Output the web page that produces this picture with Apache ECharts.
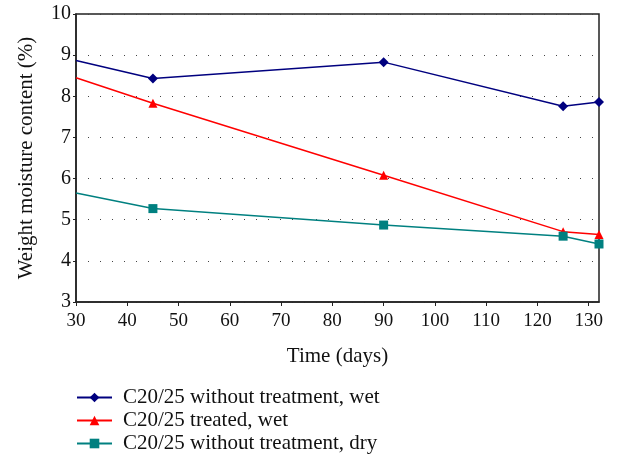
<!DOCTYPE html>
<html>
<head>
<meta charset="utf-8">
<style>
  html, body { margin: 0; padding: 0; background: #fff; }
  #chart { width: 618px; height: 463px; }
</style>
<script src="https://cdn.jsdelivr.net/npm/echarts@6/dist/echarts.min.js"></script>
</head>
<body>
<div id="chart"></div>
<script>
// Sampling days
const days = [30, 45, 90, 125, 132];

// Weight moisture content (%) per mix
const untreatedWet = [8.87, 8.43, 8.83, 7.76, 7.86];
const treatedWet = [8.45, 7.83, 6.08, 4.71, 4.64];
const untreatedDry = [5.65, 5.27, 4.87, 4.60, 4.41];

const seriesNames = [
  'C20/25 without treatment, wet',
  'C20/25 treated, wet',
  'C20/25 without treatment, dry'
];

const FONT = 'Liberation Serif';

// pair days with values; the day-30 reading has no marker
function pairs(values) {
  return days.map((d, i) => i === 0
    ? { value: [d, values[i]], symbol: 'none' }
    : [d, values[i]]);
}

function lineSeries(name, values, color, symbol, size) {
  return {
    name: name,
    type: 'line',
    data: pairs(values),
    symbol: symbol,
    symbolSize: size,
    showAllSymbol: true,
    clip: false,
    lineStyle: { color: color, width: 1.5 },
    itemStyle: { color: color },
    emphasis: { disabled: true }
  };
}

const chart = echarts.init(document.getElementById('chart'), null, { renderer: 'canvas' });

chart.setOption({
  animation: false,
  backgroundColor: '#fff',
  textStyle: { fontFamily: FONT },
  grid: {
    left: 76, right: 19, top: 14, bottom: 161,
    show: true, borderColor: '#222', borderWidth: 1.5
  },
  legend: {
    orient: 'vertical',
    left: 76, top: 387,
    width: 500, height: 76,
    padding: 0,
    itemWidth: 35, itemHeight: 12, itemGap: 2,
    textStyle: { fontFamily: FONT, fontSize: 21, color: '#111', lineHeight: 20, padding: [0, 0, 0, 6] },
    data: seriesNames
  },
  xAxis: {
    type: 'value',
    min: 30, max: 132, interval: 10,
    name: 'Time (days)',
    nameLocation: 'middle',
    nameGap: 44,
    nameTextStyle: { fontFamily: FONT, fontSize: 21, color: '#111' },
    axisLine: { show: true, lineStyle: { color: '#222', width: 1.5 } },
    axisTick: { show: true, length: 4, lineStyle: { color: '#222' } },
    axisLabel: { fontFamily: FONT, fontSize: 19, color: '#111', margin: 10, showMaxLabel: false },
    splitLine: { show: false }
  },
  yAxis: {
    type: 'value',
    min: 3, max: 10, interval: 1,
    name: 'Weight moisture content (%)',
    nameLocation: 'middle',
    nameGap: 39,
    nameTextStyle: { fontFamily: FONT, fontSize: 21, color: '#111' },
    axisLine: { show: true, lineStyle: { color: '#222', width: 1.5 } },
    axisTick: { show: true, length: 3, lineStyle: { color: '#222' } },
    axisLabel: { fontFamily: FONT, fontSize: 20, color: '#111', margin: 5 },
    splitLine: { show: true, lineStyle: { color: '#444', width: 1, type: [1, 11] } }
  },
  series: [
    lineSeries(seriesNames[0], untreatedWet, '#00007f', 'diamond', 10),
    lineSeries(seriesNames[1], treatedWet, '#ff0000', 'triangle', 9),
    lineSeries(seriesNames[2], untreatedDry, '#008080', 'rect', 9)
  ]
});
</script>
</body>
</html>
